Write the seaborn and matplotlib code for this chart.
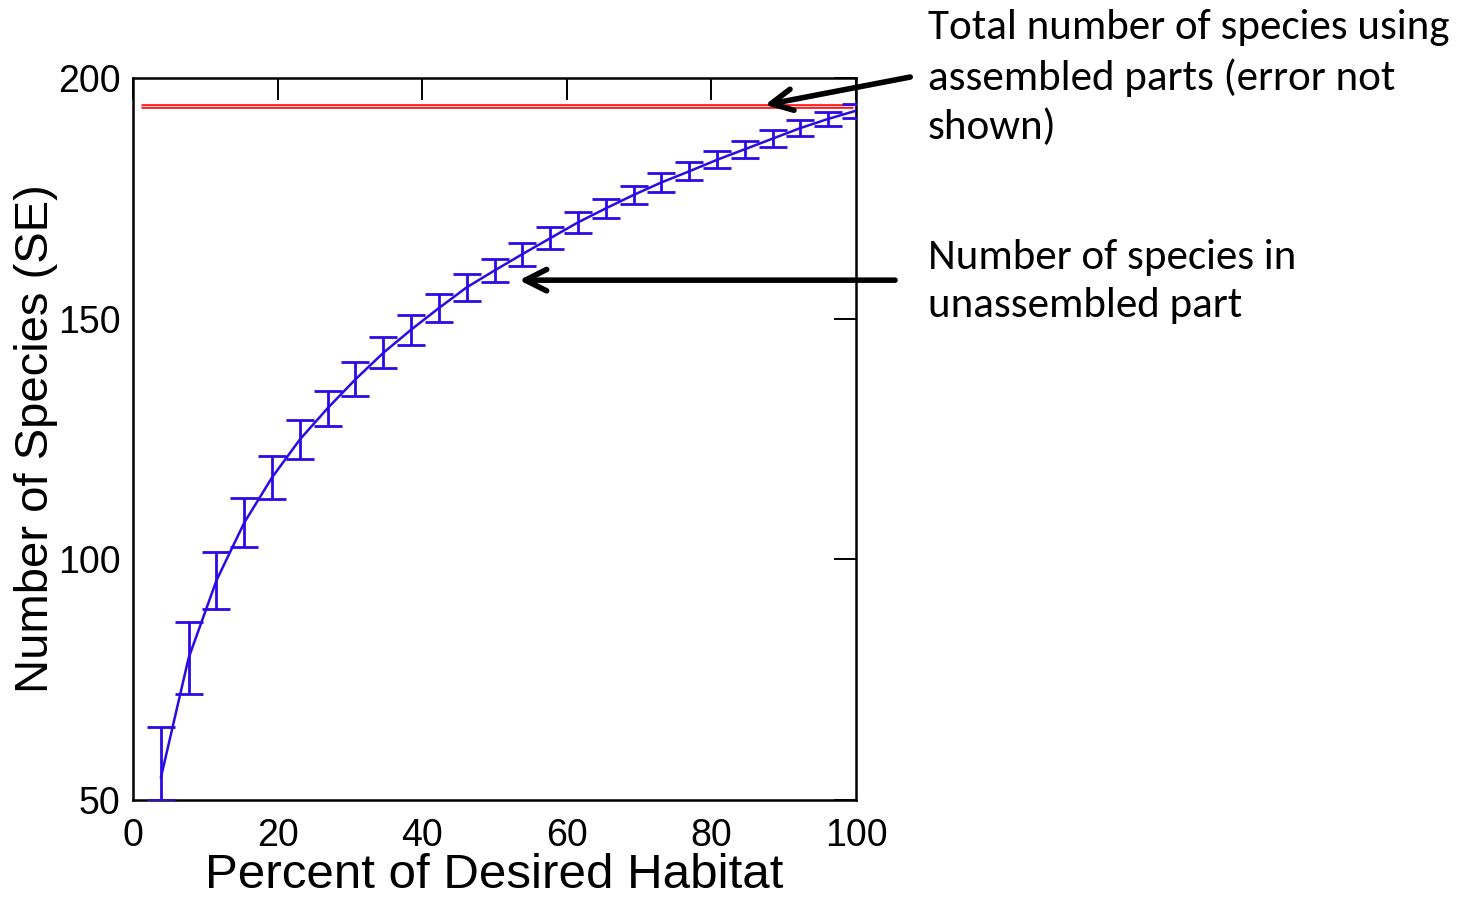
import matplotlib
matplotlib.use("Agg")
import matplotlib.pyplot as plt
import seaborn as sns
import pandas as pd

# ---- data ----
percent_habitat = [3.85, 7.69, 11.54, 15.38, 19.23, 23.08, 26.92, 30.77, 34.62,
                   38.46, 42.31, 46.15, 50.0, 53.85, 57.69, 61.54, 65.38, 69.23,
                   73.08, 76.92, 80.77, 84.62, 88.46, 92.31, 96.15, 100.0]
species_mean = [54.6, 79.5, 95.6, 107.6, 117.0, 124.9, 131.4, 137.4, 142.9,
                147.7, 152.2, 156.5, 160.0, 163.4, 166.7, 170.0, 172.9, 175.7,
                178.3, 180.6, 183.0, 185.2, 187.4, 189.6, 191.5, 193.2]
se_low = [4.6, 7.5, 6.0, 5.1, 4.5, 4.05, 3.6, 3.5, 3.2, 3.1, 2.85, 2.75, 2.45,
          2.4, 2.25, 2.1, 2.05, 1.95, 1.9, 1.85, 1.8, 1.75, 1.7, 1.6, 1.5, 1.5]
se_high = [10.6, 7.5, 6.0, 5.1, 4.5, 4.05, 3.6, 3.5, 3.2, 3.1, 2.85, 2.75, 2.45,
           2.4, 2.25, 2.1, 2.05, 1.95, 1.9, 1.85, 1.8, 1.75, 1.7, 1.6, 1.5, 1.5]
total_assembled = 194.2
total_span = [1.1, 99.6]

x_ticks = [0, 20, 40, 60, 80, 100]
y_ticks = [50, 100, 150, 200]

df = pd.DataFrame({"pct": percent_habitat, "n": species_mean})

sns.set_theme(style="white")
plt.rcParams['font.family'] = ['Liberation Sans', 'DejaVu Sans']
plt.rcParams['text.color'] = 'black'
plt.rcParams['axes.labelcolor'] = 'black'
plt.rcParams['xtick.color'] = 'black'
plt.rcParams['ytick.color'] = 'black'

fig = plt.figure(figsize=(14.7, 9.01), dpi=100)
ax = fig.add_axes([133/1470, 1 - 800/901, (856-133)/1470, (800-78)/901])

blue = '#2a0ae6'
# total (assembled) line: red with thin white core
ax.hlines(total_assembled, total_span[0], total_span[1], color='#ff1a1a', lw=3.4, zorder=2)
ax.hlines(total_assembled, total_span[0], total_span[1], color='white', lw=0.6, zorder=2.1)

sns.lineplot(data=df, x="pct", y="n", ax=ax, color=blue, lw=1.8, zorder=3)
ax.errorbar(percent_habitat, species_mean, yerr=[se_low, se_high], fmt='none',
            ecolor=blue, elinewidth=2.0, capsize=10, capthick=2.0, zorder=3)

ax.set_xlim(0, 100)
ax.set_ylim(50, 200)
ax.set_xticks(x_ticks)
ax.set_yticks(y_ticks)
for s in ax.spines.values():
    s.set_linewidth(1.8)
    s.set_color('black')
ax.tick_params(axis='both', which='major', direction='in', length=16, width=1.4,
               color='black', labelcolor='black', top=True, right=True, labelsize=27)
ax.tick_params(axis='x', pad=13)
ax.tick_params(axis='y', pad=9)
ax.set_xlabel("Percent of Desired Habitat", fontsize=35.5, labelpad=-1, color='black')
ax.set_ylabel("Number of Species (SE)", fontsize=34, labelpad=0, color='black')

# arrows
arrow_kw = dict(arrowstyle='->,head_length=0.7,head_width=0.35', lw=4, color='black',
                mutation_scale=22, shrinkA=0, shrinkB=0)
ax.annotate('', xy=(87.4, 194.4), xytext=(107.5, 200.2), arrowprops=arrow_kw,
            annotation_clip=False)
ax.annotate('', xy=(53.4, 158.0), xytext=(105.4, 158.0), arrowprops=arrow_kw,
            annotation_clip=False)

note_font = ['Carlito', 'Lato', 'DejaVu Sans']
fig.text(928/1470, 1 - 9/901, "Total number of species using\nassembled parts (error not\nshown)",
         ha='left', va='top', fontsize=31, family=note_font, linespacing=1.38, color='black')
fig.text(928/1470, 1 - 239/901, "Number of species in\nunassembled part",
         ha='left', va='top', fontsize=31, family=note_font, linespacing=1.38, color='black')

fig.savefig("out.png", dpi=100)
